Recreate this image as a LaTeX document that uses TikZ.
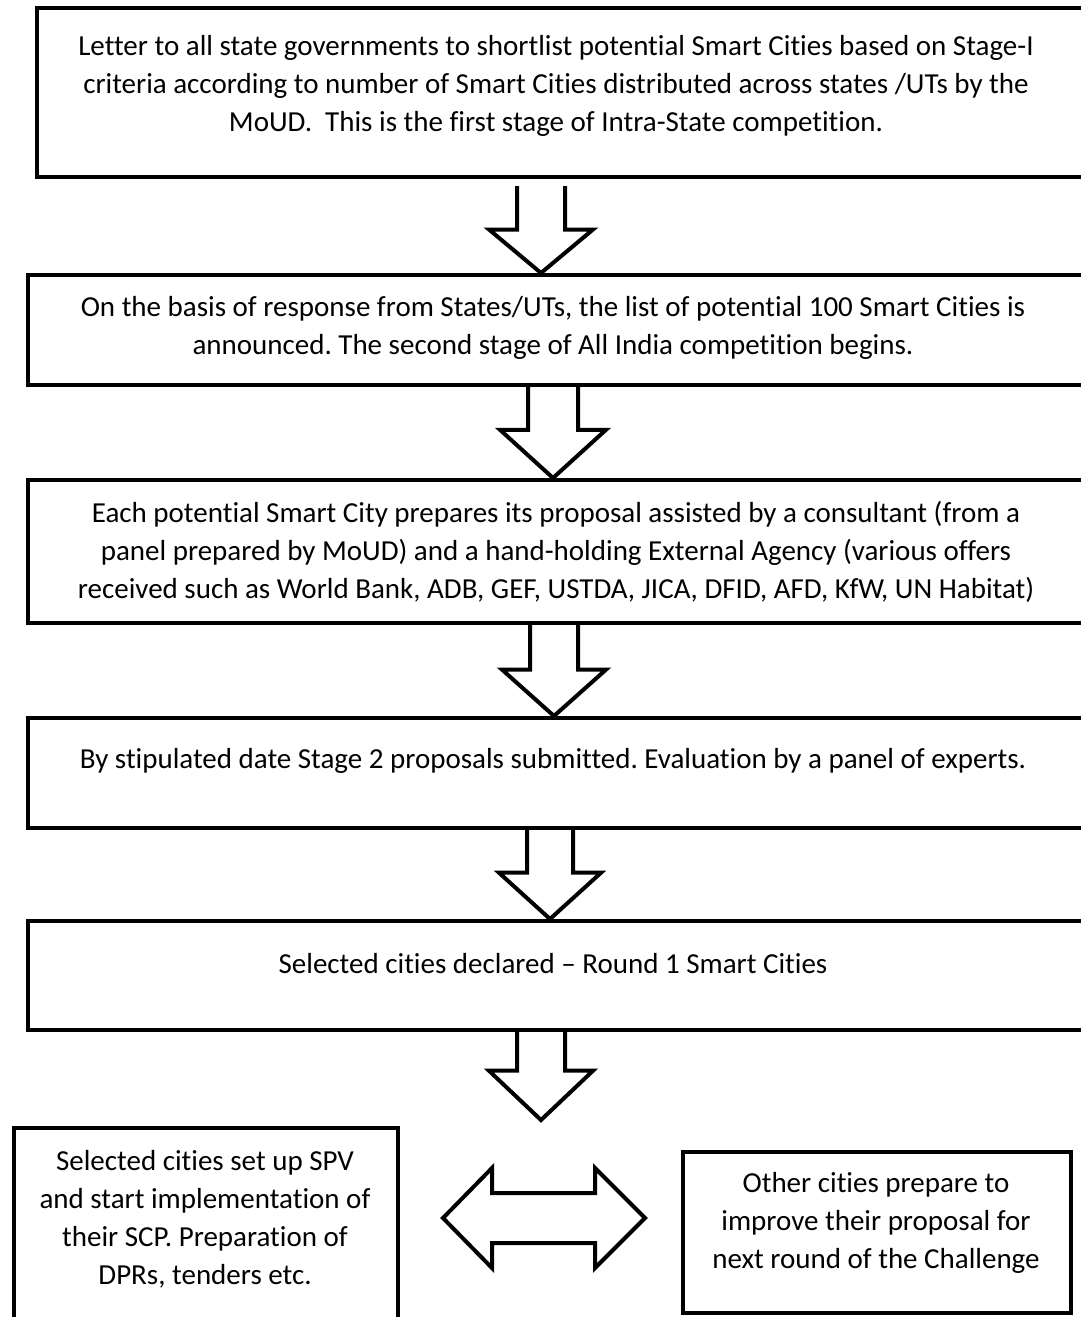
\documentclass[tikz,border=0pt]{standalone}
\usepackage{fontspec}
\setmainfont{Carlito}[Ligatures={NoCommon},Contextuals={NoAlternate}]
\frenchspacing
\usetikzlibrary{calc}
\newcommand\blockdown[6]{%
  \draw[blk] let \p1=(#1), \p2=(#2) in
    ({#3pt-#4pt},\y1) -- ({#3pt-#4pt},{\y1+#6*(\y2-\y1)})
    -- ({#3pt-#5pt},{\y1+#6*(\y2-\y1)}) -- (#3pt,\y2)
    -- ({#3pt+#5pt},{\y1+#6*(\y2-\y1)}) -- ({#3pt+#4pt},{\y1+#6*(\y2-\y1)})
    -- ({#3pt+#4pt},\y1);}
\begin{document}
\begin{tikzpicture}[x=1pt,y=-1pt,
  frame/.style={draw=black, line width=4pt, rectangle, inner sep=0pt},
  txt/.style={align=center, inner sep=0pt, font=\fontsize{29}{38}\selectfont},
  blk/.style={draw=black, line width=4pt, line join=miter},
]
\useasboundingbox (0,0) rectangle (1080,1317);
% boxes
\node[frame, minimum width=1048pt, minimum height=169pt] (b1) at (561,92.5) {};
\node[frame, minimum width=1057pt, minimum height=110pt] (b2) at (556.5,330) {};
\node[frame, minimum width=1057pt, minimum height=143pt] (b3) at (556.5,551.5) {};
\node[frame, minimum width=1057pt, minimum height=110pt] (b4) at (556.5,773) {};
\node[frame, minimum width=1057pt, minimum height=109pt] (b5) at (556.5,975.5) {};
\node[frame, minimum width=384pt, minimum height=220pt] (L) at (206,1238) {};
\node[frame, minimum width=388pt, minimum height=161pt] (R) at (877,1232.5) {};
% texts
\node[txt] (t1) at (556,86) {Letter to all state governments to shortlist potential Smart Cities based on Stage-I\\criteria according to number of Smart Cities distributed across states /UTs by the\\MoUD.\ \ This is the first stage of Intra-State competition.};
\node[txt] (t2) at (553,328) {On the basis of response from States/UTs, the list of potential 100 Smart Cities is\\announced. The second stage of All India competition begins.};
\node[txt] (t3) at (556,552) {Each potential Smart City prepares its proposal assisted by a consultant (from a\\panel prepared by MoUD) and a hand-holding External Agency (various offers\\received such as World Bank, ADB, GEF, USTDA, JICA, DFID, AFD, KfW, UN Habitat)};
\node[txt] (t4) at (553,761) {By stipulated date Stage 2 proposals submitted. Evaluation by a panel of experts.};
\node[txt] (t5) at (553,964) {Selected cities declared -- Round 1 Smart Cities};
\node[txt] (tL) at (205,1219) {Selected cities set up SPV\\and start implementation of\\their SCP. Preparation of\\DPRs, tenders etc.};
\node[txt] (tR) at (876,1223) {Other cities prepare to\\improve their proposal for\\next round of the Challenge};
% block arrows
\coordinate (a5end) at (540,1120);
\blockdown{[yshift=-7pt]b1.south}{b2.north}{541}{24}{52}{0.50}
\blockdown{b2.south}{b3.north}{553}{25}{53}{0.47}
\blockdown{b3.south}{b4.north}{554}{24}{52}{0.49}
\blockdown{b4.south}{b5.north}{550}{23}{51}{0.48}
\blockdown{b5.south}{a5end}{541}{24}{52}{0.44}
% double arrow
\draw[blk] let \p1=(L.east), \p2=(R.west), \p3=(0,1218) in
  ({\x1+43pt},\y3) -- ({\x1+92pt},{\y3+50pt}) -- ({\x1+92pt},{\y3+25pt})
  -- ({\x2-86pt},{\y3+25pt}) -- ({\x2-86pt},{\y3+50pt}) -- ({\x2-36pt},\y3)
  -- ({\x2-86pt},{\y3-50pt}) -- ({\x2-86pt},{\y3-25pt}) -- ({\x1+92pt},{\y3-25pt})
  -- ({\x1+92pt},{\y3-50pt}) -- cycle;
\end{tikzpicture}
\end{document}
